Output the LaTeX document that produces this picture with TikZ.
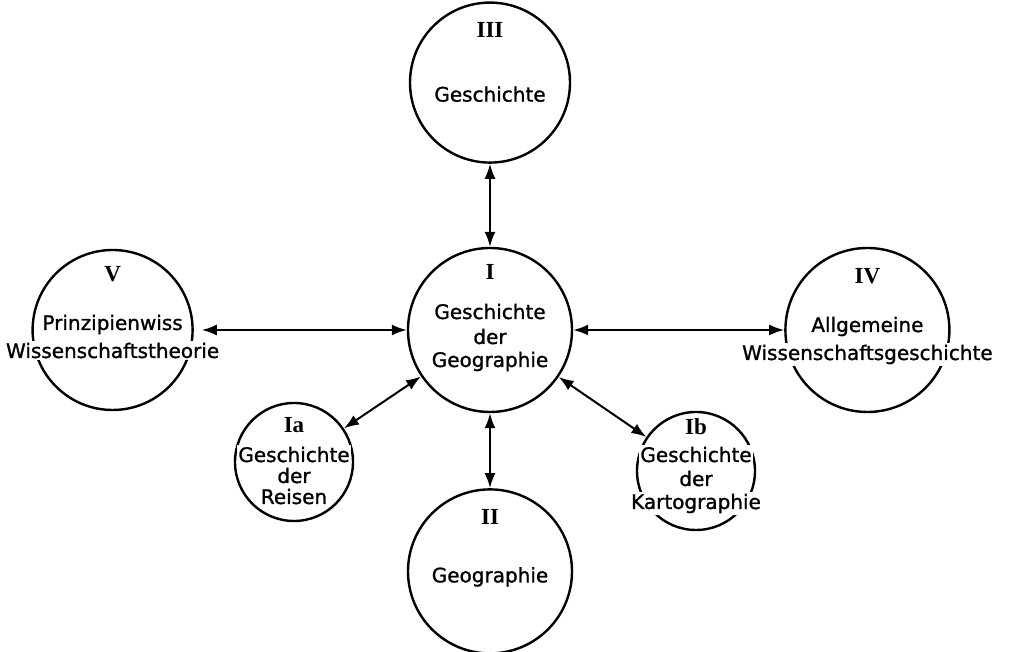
\documentclass[tikz,border=0pt]{standalone}
\usepackage{fontspec}
\setmainfont{DejaVu Sans}[FakeBold=1.2]
\newfontfamily\schrift[FakeBold=1.2]{DejaVu Sans}
\newfontfamily\roemisch{Liberation Serif}
\usetikzlibrary{arrows.meta,positioning}
\tikzstyle{kreis}=[draw, circle, line width=2.4pt, inner sep=0pt, minimum size=164pt]
\tikzstyle{kleinkreis}=[kreis, minimum size=118pt]
\tikzstyle{zeile}=[anchor=base, inner sep=1.5pt, fill=white, font=\schrift\fontsize{20}{24}\selectfont]
\tikzstyle{nummer}=[anchor=base, inner sep=1pt, font=\roemisch\bfseries\fontsize{23}{26}\selectfont]
\tikzstyle{pfeil}=[line width=2pt, {Latex[length=15pt,width=11pt]}-{Latex[length=15pt,width=11pt]}]

\begin{document}
\begin{tikzpicture}[x=1pt,y=1pt]
\useasboundingbox (0,0) rectangle (1015,652);

\node[kreis] (I) at (490,322) {};
\node[kreis, minimum size=160pt, above=83pt of I] (III) {};
\node[kreis, below=75pt of I] (II) {};
\node[kreis, minimum size=160pt, left=213pt of I] (V) {};
\node[kreis, right=211pt of I] (IV) {};
\node[kleinkreis] (Ia) at (294,190) {};
\node[kleinkreis] (Ib) at (696,181) {};

% Zentrum
\node[nummer] (I-n) at ([yshift=50pt]I.center) {I};
\node[zeile] (I-1) at ([yshift=11pt]I.center) {Geschichte};
\node[zeile] (I-2) at ([yshift=-14pt]I.center) {der};
\node[zeile] (I-3) at ([yshift=-37pt]I.center) {Geographie};

% oben / unten
\node[nummer] (III-n) at ([yshift=45pt]III.center) {III};
\node[zeile] (III-1) at ([yshift=-19pt]III.center) {Geschichte};
\node[nummer] (II-n) at ([yshift=47pt]II.center) {II};
\node[zeile] (II-1) at ([yshift=-11pt]II.center) {Geographie};

% links / rechts
\node[nummer] (V-n) at ([yshift=48pt]V.center) {V};
\node[zeile] (V-1) at ([yshift=0pt]V.center) {Prinzipienwiss};
\node[zeile] (V-2) at ([yshift=-28pt]V.center) {Wissenschaftstheorie};
\node[nummer] (IV-n) at ([yshift=46pt]IV.center) {IV};
\node[zeile] (IV-1) at ([yshift=-2pt]IV.center) {Allgemeine};
\node[zeile] (IV-2) at ([yshift=-30pt]IV.center) {Wissenschaftsgeschichte};

% kleine Kreise
\node[nummer] (Ia-n) at ([yshift=29pt]Ia.center) {Ia};
\node[zeile] (Ia-1) at ([yshift=0pt]Ia.center) {Geschichte};
\node[zeile] (Ia-2) at ([yshift=-21pt]Ia.center) {der};
\node[zeile] (Ia-3) at ([yshift=-42pt]Ia.center) {Reisen};
\node[nummer] (Ib-n) at ([yshift=36pt]Ib.center) {Ib};
\node[zeile] (Ib-1) at ([yshift=9pt]Ib.center) {Geschichte};
\node[zeile] (Ib-2) at ([yshift=-15pt]Ib.center) {der};
\node[zeile] (Ib-3) at ([yshift=-38pt]Ib.center) {Kartographie};

\draw[pfeil] (III) -- (I);
\draw[pfeil] (I) -- (II);
\draw[pfeil, shorten <=8pt] (V) -- (I);
\draw[pfeil] (I) -- (IV);
\draw[pfeil] (I) -- (Ia);
\draw[pfeil] (I) -- (Ib);

\end{tikzpicture}
\end{document}
